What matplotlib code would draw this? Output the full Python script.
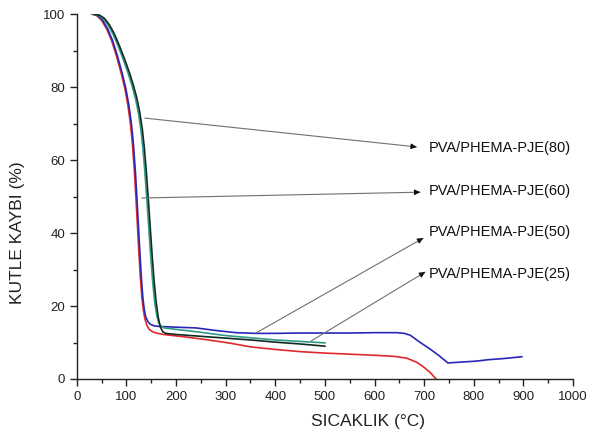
import matplotlib
matplotlib.use("Agg")
import matplotlib.pyplot as plt
from matplotlib.ticker import MultipleLocator

plt.rcParams['font.family'] = ['Liberation Sans', 'DejaVu Sans']

# Thermogravimetric curves: temperature (°C) vs. mass loss (%)
t_25 = [30, 40, 50, 60, 70, 80, 90, 97, 103, 108, 112, 116, 119, 122, 125, 128, 131, 134,
        137, 141, 146, 152, 160, 175, 220, 260, 310, 350, 400, 450, 500, 550, 600, 640,
        665, 685, 698, 712, 724]
m_25 = [100, 99.6, 98.3, 96, 92.8, 88.5, 83.5, 79.5, 75, 70, 64.5, 57, 50, 42.5, 35, 28,
        22.5, 19, 16.6, 14.8, 13.6, 13.0, 12.6, 12.2, 11.5, 10.8, 9.8, 8.8, 8.1, 7.5, 7.1,
        6.8, 6.5, 6.2, 5.7, 4.6, 3.4, 1.8, 0]

t_50 = [32, 42, 52, 62, 72, 82, 92, 99, 105, 110, 114, 118, 121, 124, 127, 130, 133, 136,
        139, 143, 148, 155, 165, 200, 240, 280, 320, 360, 400, 450, 500, 550, 600, 645,
        660, 672, 690, 712, 730, 748, 770, 805, 830, 860, 897]
m_50 = [100, 99.6, 98.3, 96, 92.8, 88.5, 83.5, 79.5, 75, 70, 64.5, 57, 50, 42.5, 35, 28,
        22.5, 19, 17, 15.8, 15.0, 14.6, 14.4, 14.2, 14.0, 13.3, 12.7, 12.5, 12.5, 12.6,
        12.6, 12.6, 12.7, 12.7, 12.5, 12.0, 10.2, 8.2, 6.4, 4.4, 4.6, 4.9, 5.3, 5.6, 6.1]

t_60 = [33, 43, 53, 63, 73, 83, 93, 103, 111, 118, 124, 129, 133, 137, 141, 145, 149, 153,
        157, 161, 165, 170, 176, 200, 250, 300, 350, 400, 450, 500]
m_60 = [100, 99.7, 98.8, 97, 94.5, 91.3, 87.8, 84, 80.5, 77, 73, 68.5, 63.5, 57, 49.5, 41.5,
        33.5, 26.5, 21, 17.5, 15.4, 14.5, 14.0, 13.6, 12.8, 11.9, 11.3, 10.7, 10.3, 9.9]

t_80 = [36, 46, 56, 66, 76, 86, 96, 106, 114, 121, 127, 132, 136, 140, 144, 148, 152, 156,
        160, 164, 168, 173, 179, 200, 250, 300, 350, 400, 450, 500]
m_80 = [100, 99.7, 98.8, 97, 94.5, 91.3, 87.8, 84, 80.5, 77, 73, 68.5, 63.5, 57, 49.5, 41.5,
        33.5, 26.5, 21, 17, 14.4, 13.0, 12.5, 12.2, 11.7, 11.2, 10.7, 10.1, 9.6, 9.0]

labels = ['PVA/PHEMA-PJE(80)', 'PVA/PHEMA-PJE(60)', 'PVA/PHEMA-PJE(50)', 'PVA/PHEMA-PJE(25)']
label_xy = [(710, 63.3), (710, 51.5), (710, 40.3), (710, 28.8)]
arrow_tail = [(137, 71.5), (131, 49.6), (361, 12.6), (472, 10.4)]
arrow_head = [(685, 63.6), (692, 51.2), (698, 38.6), (702, 29.3)]

fig = plt.figure(figsize=(6.0, 4.41), dpi=100)
ax = fig.add_axes([0.128, 0.1406, 0.827, 0.8274])

ax.plot(t_25, m_25, color='#e0282c', lw=1.2)
ax.plot(t_50, m_50, color='#2727b8', lw=1.2)
ax.plot(t_60, m_60, color='#2e9a88', lw=1.2)
ax.plot(t_80, m_80, color='#102a22', lw=1.2)

for lab, pos, tail, head in zip(labels, label_xy, arrow_tail, arrow_head):
    # thin grey leader line
    ax.annotate('', xy=head, xytext=tail,
                arrowprops=dict(arrowstyle='-', color='#707070', lw=0.8,
                                shrinkA=0, shrinkB=0))
    # small dark arrowhead at the label end
    near = (head[0] - 0.02 * (head[0] - tail[0]), head[1] - 0.02 * (head[1] - tail[1]))
    ax.annotate('', xy=head, xytext=near,
                arrowprops=dict(arrowstyle='-|>', color='#111111', lw=0.8,
                                mutation_scale=8, shrinkA=0, shrinkB=0))
    ax.text(pos[0], pos[1], lab, fontsize=10.5, ha='left', va='center', color='#111111')

ax.set_xlim(0, 1000)
ax.set_ylim(0, 100)
ax.xaxis.set_major_locator(MultipleLocator(100))
ax.xaxis.set_minor_locator(MultipleLocator(50))
ax.yaxis.set_major_locator(MultipleLocator(20))
ax.yaxis.set_minor_locator(MultipleLocator(10))
ax.tick_params(which='major', direction='out', length=5, width=1, labelsize=9.5,
               colors='#222222')
ax.tick_params(which='minor', direction='out', length=3, width=1, colors='#222222')

for side in ('top', 'right'):
    ax.spines[side].set_visible(False)
for side in ('left', 'bottom'):
    ax.spines[side].set_linewidth(1)
    ax.spines[side].set_color('#222222')

ax.set_xlabel('SICAKLIK (°C)', fontsize=12.5, color='#222222')
ax.xaxis.set_label_coords(0.587, -0.095)
ax.set_ylabel('KUTLE KAYBI (%)', fontsize=12.5, color='#222222')
ax.yaxis.set_label_coords(-0.105, 0.40)

fig.savefig('out.png', dpi=100)
